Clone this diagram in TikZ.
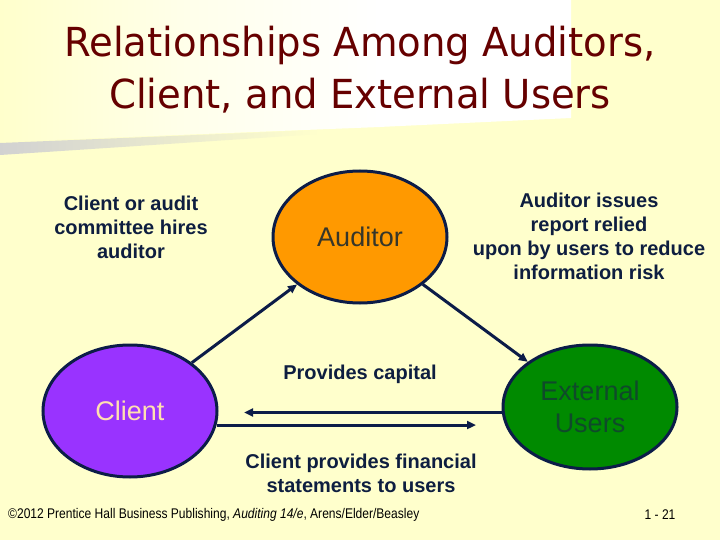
\documentclass[tikz,border=0pt]{standalone}
\usepackage{fontspec}
\setmainfont{Liberation Sans}
\newfontfamily\titlefont[FakeStretch=0.965]{DejaVu Sans}
\newfontfamily\footfont[FakeStretch=0.86]{Liberation Sans}
\usetikzlibrary{shapes.geometric,arrows.meta,calc}
\definecolor{bgyellow}{HTML}{FFFFCC}
\definecolor{navy}{HTML}{0C1C48}
\definecolor{txtnavy}{HTML}{0E1E40}
\definecolor{maroon}{HTML}{660000}
\definecolor{audorange}{HTML}{FF9900}
\definecolor{clipurple}{HTML}{9933FF}
\definecolor{extgreen}{HTML}{008A00}
\definecolor{clitext}{HTML}{FFE0B0}
\definecolor{audtext}{HTML}{36362A}
\definecolor{exttext}{HTML}{0F4A2A}
\tikzset{
  party/.style={ellipse, draw=navy, line width=3pt, inner sep=0pt,
    minimum width=174pt, minimum height=132pt, align=center,
    font=\fontsize{27}{32}\selectfont},
  arr/.style={draw=navy, line width=3pt, -{Triangle[length=9pt,width=8pt]}},
  lbl/.style={text=txtnavy, align=center, inner sep=0pt,
    font=\fontsize{20}{24}\selectfont\bfseries},
  ttl/.style={text=maroon, anchor=base, inner sep=0pt,
    font=\titlefont\fontsize{40}{48}\selectfont},
  foot/.style={text=black, inner sep=0pt, font=\footfont\fontsize{14}{16}\selectfont}
}
\begin{document}
\begin{tikzpicture}[x=1pt,y=-1pt]
\useasboundingbox (0,0) rectangle (720,540);
\fill[bgyellow] (0,0) rectangle (720,540);
% whitish title panel
\shade[left color=bgyellow, right color=white, middle color=white!60!bgyellow]
  (0,0) -- (380,0) -- (380,127) -- (0,142) -- cycle;
\fill[white] (379,0) -- (571,0) -- (571,118) -- (379,127) -- cycle;
% gray bar
\shade[left color=black!18, right color=bgyellow]
  (0,143) -- (320,130) -- (320,134) -- (0,155) -- cycle;
% title
\node[ttl] (t1) at (360,57) {Relationships Among Auditors,};
\node[ttl] (t2) at (360,109) {Client, and External Users};
% parties
\node[party, fill=audorange, text=audtext] (aud) at (360,237) {Auditor};
\node[party, fill=clipurple, text=clitext] (cli) at (130,411) {Client};
\node[party, fill=extgreen, text=exttext, minimum height=124pt] (ext) at (590,407) {External\\Users};
% connectors
\draw[arr] (cli.38.7) -- (aud.217.5);
\draw[arr] (aud.-37) -- (ext.144.6);
\coordinate (captip) at (244,412.5);
\coordinate (fstip) at (476,425);
\draw[arr] ($(ext.west)+(0.3,5.5)$) -- (captip);
\draw[arr] ($(cli.east)+(-1.5,14)$) -- (fstip);
% labels
\node[lbl] (l1) at (131,227) {Client or audit\\committee hires\\auditor};
\node[lbl] (l2) at (589,236) {Auditor issues\\report relied\\upon by users to reduce\\information risk};
\node[lbl] (l3) at (360,374) {Provides capital};
\node[lbl] (l4) at (361,473) {Client provides financial\\statements to users};
% footer
\node[foot, anchor=west] (f1) at (8,515) {\textcopyright2012 Prentice Hall Business Publishing, \textit{Auditing 14/e}, Arens/Elder/Beasley};
\node[foot] (f2) at (660,515) {1 - 21};
\end{tikzpicture}
\end{document}
